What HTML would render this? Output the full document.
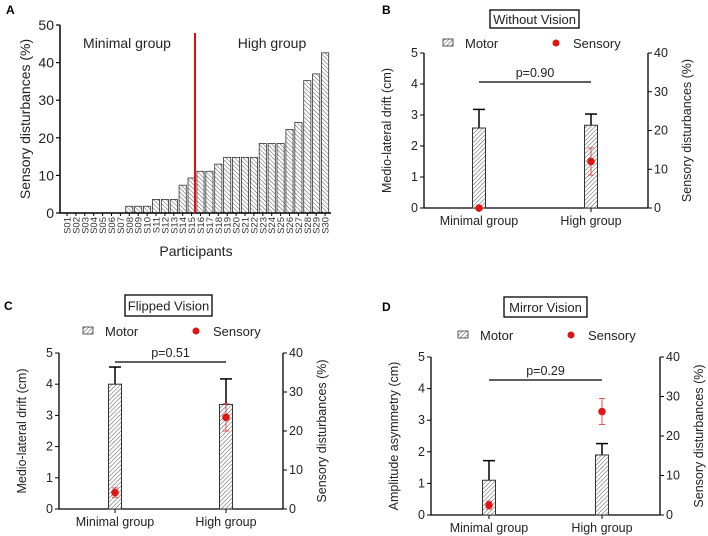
<!DOCTYPE html>
<html><head><meta charset="utf-8"><style>
body{margin:0;background:#fff;}
svg{display:block;font-family:"Liberation Sans",Arial,sans-serif;}
</style></head><body>
<svg id="fig" width="708" height="536" viewBox="0 0 708 536" xmlns="http://www.w3.org/2000/svg">
<defs>
<pattern id="hatchA" patternUnits="userSpaceOnUse" width="3" height="3" patternTransform="rotate(-45)">
<rect width="3" height="3" fill="#fff"/><line x1="0" y1="0" x2="0" y2="3" stroke="#444" stroke-width="0.9"/></pattern>
<pattern id="hatchB" patternUnits="userSpaceOnUse" width="3" height="3" patternTransform="rotate(45)">
<rect width="3" height="3" fill="#fff"/><line x1="0" y1="0" x2="0" y2="3" stroke="#444" stroke-width="0.9"/></pattern>
</defs>
</svg>
<script>
const participants=["S01","S02","S03","S04","S05","S06","S07","S08","S09","S10","S11","S12","S13","S14","S15","S16","S17","S18","S19","S20","S21","S22","S23","S24","S25","S26","S27","S28","S29","S30"];
const disturbances=[0,0,0,0,0,0,0,1.8,1.8,1.8,3.6,3.6,3.6,7.4,9.3,11.1,11.1,13,14.8,14.8,14.8,14.8,18.5,18.5,18.5,22.2,24.1,35.2,37,42.6];
const aTicks=[0,10,20,30,40,50];
const groups=["Minimal group","High group"];
const motorB=[2.58,2.67], motorErrB=[0.6,0.36], sensB=[0,12], sensErrB=[0,3.5];
const motorC=[4.0,3.35], motorErrC=[0.55,0.82], sensC=[4.2,23.5], sensErrC=[1.2,3.5];
const motorD=[1.1,1.9], motorErrD=[0.62,0.36], sensD=[2.5,26.2], sensErrD=[1.0,3.3];
const leftTicks=[0,1,2,3,4,5], rightTicks=[0,10,20,30,40];

const svg=document.getElementById('fig');
const NS="http://www.w3.org/2000/svg";
function mk(tag,attrs,parent,text){const e=document.createElementNS(NS,tag);for(const k in attrs)e.setAttribute(k,attrs[k]);if(text!==undefined)e.textContent=text;(parent||svg).appendChild(e);return e;}

// Panel A
const gA=mk('g',{});


const aL=60,aT=25,aB=213,s0=67,step=8.9;
const yA=v=>aB-(v/50)*(aB-aT);
const xA=i=>s0+i*step;
let t=mk('text',{x:6,y:14,'font-size':12,'font-weight':'bold'},gA,'A');

disturbances.forEach((v,i)=>{
 const b=mk('rect',{x:xA(i)-3.6,y:yA(v),width:7.2,height:aB-yA(v),fill:'url(#hatchA)',stroke:'#333','stroke-width':0.8},gA);
 
 
 mk('line',{x1:xA(i),x2:xA(i),y1:aB,y2:aB+3,stroke:'#000','stroke-width':1},gA);
 const l=mk('text',{x:0,y:0,'font-size':9.5,'text-anchor':'end',transform:`translate(${xA(i)+3.5},${aB+4}) rotate(-90)`,fill:'#333'},gA,participants[i]);
 
 
});
mk('line',{x1:aL,x2:aL,y1:aT,y2:aB,stroke:'#000','stroke-width':1.5},gA);
mk('line',{x1:aL,x2:331,y1:aB,y2:aB,stroke:'#000','stroke-width':1.5},gA);
aTicks.forEach(v=>{
 mk('line',{x1:aL-4,x2:aL,y1:yA(v),y2:yA(v),stroke:'#000','stroke-width':1.2},gA);
 const l=mk('text',{x:aL-6,y:yA(v)+5,'font-size':14,'text-anchor':'end',fill:'#222'},gA,v);
 
 
});
const red=mk('line',{x1:195,x2:195,y1:33,y2:aB,stroke:'#e01010','stroke-width':2},gA);

t=mk('text',{x:127,y:48,'font-size':14,'text-anchor':'middle',fill:'#222'},gA,'Minimal group');

t=mk('text',{x:272,y:48,'font-size':14,'text-anchor':'middle',fill:'#222'},gA,'High group');

t=mk('text',{x:196,y:256,'font-size':14,'text-anchor':'middle',fill:'#222'},gA,'Participants');

t=mk('text',{x:0,y:0,'font-size':14,'text-anchor':'middle',transform:'translate(30,119) rotate(-90)',fill:'#222'},gA,'Sensory disturbances  (%)');


function panel(o){
 const g=mk('g',{});
 
 
 const yL=v=>o.B-(v/5)*(o.B-o.T), yR=v=>o.B-(v/40)*(o.B-o.T);
 let e=mk('text',{x:o.letterX,y:o.letterY,'font-size':12,'font-weight':'bold'},g,o.id.toUpperCase());
 
 e=mk('rect',{x:o.tb[0],y:o.tb[1],width:o.tb[2],height:o.tb[3],fill:'#fff',stroke:'#000','stroke-width':1.3},g);
 
 e=mk('text',{x:o.tb[0]+o.tb[2]/2,y:o.tb[1]+o.tb[3]/2+5,'font-size':13,'text-anchor':'middle',fill:'#222'},g,o.title);
 
 const lx=o.leg[0],ly=o.leg[1];
 e=mk('rect',{x:lx,y:ly-4,width:10,height:7,fill:'url(#hatchB)',stroke:'#333','stroke-width':0.8},g);
 
 e=mk('text',{x:lx+22,y:ly+5,'font-size':13,fill:'#222'},g,'Motor');
 
 e=mk('circle',{cx:lx+113,cy:ly,r:3.5,fill:'#e01515'},g);
 
 e=mk('text',{x:lx+130,y:ly+5,'font-size':13,fill:'#222'},g,'Sensory');
 
 mk('line',{x1:o.L,x2:o.L,y1:o.T,y2:o.B,stroke:'#000','stroke-width':1.3},g);
 mk('line',{x1:o.R,x2:o.R,y1:o.T,y2:o.B,stroke:'#000','stroke-width':1.3},g);
 mk('line',{x1:o.L,x2:o.R,y1:o.B,y2:o.B,stroke:'#000','stroke-width':1.3},g);
 leftTicks.forEach(v=>{
  mk('line',{x1:o.L-4,x2:o.L,y1:yL(v),y2:yL(v),stroke:'#000'},g);
  const l=mk('text',{x:o.L-6,y:yL(v)+4,'font-size':12.5,'text-anchor':'end',fill:'#222'},g,v);
  
 });
 rightTicks.forEach(v=>{
  mk('line',{x1:o.R,x2:o.R+4,y1:yR(v),y2:yR(v),stroke:'#000'},g);
  const l=mk('text',{x:o.R+6,y:yR(v)+4,'font-size':12.5,fill:'#222'},g,v);
  
 });
 e=mk('text',{x:0,y:0,'font-size':12.5,'text-anchor':'middle',fill:'#222',transform:`translate(${o.L-33},${(o.T+o.B)/2}) rotate(-90)`},g,o.ylab);
 
 e=mk('text',{x:0,y:0,'font-size':12.5,'text-anchor':'middle',fill:'#222',transform:`translate(${o.R+43},${(o.T+o.B)/2}) rotate(-90)`},g,'Sensory disturbances  (%)');
 
 groups.forEach((gname,i)=>{
  const cx=o.cx[i];
  mk('line',{x1:cx,x2:cx,y1:o.B,y2:o.B+4,stroke:'#000'},g);
  let l=mk('text',{x:cx,y:o.B+17,'font-size':12.5,'text-anchor':'middle',fill:'#222'},g,gname);
  
  const top=yL(o.m[i]+o.me[i]);
  mk('line',{x1:cx,x2:cx,y1:top,y2:yL(o.m[i]),stroke:'#000','stroke-width':1.5},g);
  mk('line',{x1:cx-6,x2:cx+6,y1:top,y2:top,stroke:'#000','stroke-width':1.5},g);
  l=mk('rect',{x:cx-6.5,y:yL(o.m[i]),width:13,height:o.B-yL(o.m[i]),fill:'url(#hatchB)',stroke:'#333','stroke-width':1},g);
  
  const sy=yR(o.s[i]);
  if(o.se[i]>0){
   const y1=yR(o.s[i]+o.se[i]),y2=yR(o.s[i]-o.se[i]);
   mk('line',{x1:cx,x2:cx,y1:y1,y2:y2,stroke:'#e05050','stroke-width':1},g);
   mk('line',{x1:cx-3,x2:cx+3,y1:y1,y2:y1,stroke:'#e05050','stroke-width':1},g);
   mk('line',{x1:cx-3,x2:cx+3,y1:y2,y2:y2,stroke:'#e05050','stroke-width':1},g);
  }
  l=mk('circle',{cx:cx,cy:sy,r:3.8,fill:'#e01515'},g);
  
 });
 e=mk('line',{x1:o.cx[0],x2:o.cx[1],y1:o.pY,y2:o.pY,stroke:'#000','stroke-width':1.2},g);
 
 e=mk('text',{x:(o.cx[0]+o.cx[1])/2,y:o.pY-5,'font-size':12.5,'text-anchor':'middle',fill:'#222'},g,o.p);
 
}
panel({id:'b',letterX:382,letterY:14,tb:[490,10,89,18],title:'Without  Vision',leg:[443,43],L:424,R:648,T:53,B:208,cx:[479,591],m:motorB,me:motorErrB,s:sensB,se:sensErrB,pY:82,p:'p=0.90',ylab:'Medio-lateral drift  (cm)'});
panel({id:'c',letterX:4,letterY:310,tb:[125,295,87,21],title:'Flipped  Vision',leg:[83,331],L:59,R:283,T:353,B:509,cx:[115,226],m:motorC,me:motorErrC,s:sensC,se:sensErrC,pY:362,p:'p=0.51',ylab:'Medio-lateral drift  (cm)'});
panel({id:'d',letterX:382,letterY:311,tb:[504,297,83,20],title:'Mirror  Vision',leg:[458,335],L:431,R:660,T:357,B:515,cx:[489,602],m:motorD,me:motorErrD,s:sensD,se:sensErrD,pY:380,p:'p=0.29',ylab:'Amplitude asymmetry (cm)'});
</script>
</body></html>
